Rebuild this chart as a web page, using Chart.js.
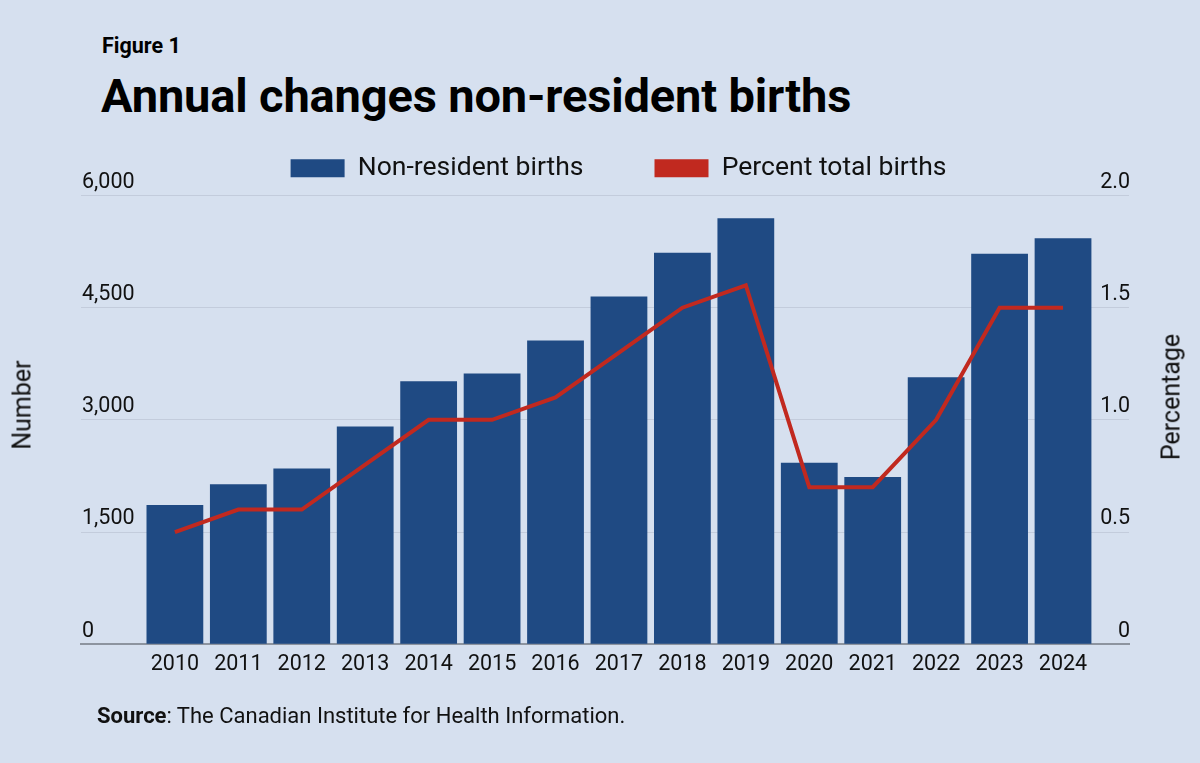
<!DOCTYPE html>
<html>
<head>
<meta charset="utf-8">
<script src="https://cdn.jsdelivr.net/npm/chart.js@4.4.1/dist/chart.umd.min.js"></script>
<style>
  html, body { margin: 0; padding: 0; }
  body {
    width: 1200px; height: 763px; overflow: hidden; position: relative;
    background: #d6e0ef; font-family: Roboto, "Noto Sans", sans-serif; color: #111;
  }
  #wrap { position: absolute; left: 0; top: 0; width: 1200px; height: 763px; }
  .txt { position: absolute; white-space: nowrap; line-height: 1; }
  #fig { left: 102px; top: 35px; font-size: 21.5px; font-weight: 700; color: #000; }
  #title { left: 101px; top: 72px; font-size: 47px; font-weight: 700; color: #000; letter-spacing: -0.15px; }
  #source { left: 97px; top: 705px; font-size: 22px; }
  #source b { font-weight: 700; }
  .axt { font-size: 25px; transform: translate(-50%, -50%) rotate(-90deg); }
  #ytl { left: 22px; top: 405px; }
  #ytr { left: 1171px; top: 397px; }
</style>
</head>
<body>
<div class="txt" id="fig">Figure 1</div>
<div class="txt" id="title">Annual changes non-resident births</div>
<div id="wrap"><canvas id="chart"></canvas></div>
<div class="txt axt" id="ytl">Number</div>
<div class="txt axt" id="ytr">Percentage</div>
<div class="txt" id="source"><b>Source</b>: The Canadian Institute for Health Information.</div>
<script>
// values
const years = [2010, 2011, 2012, 2013, 2014, 2015, 2016, 2017, 2018, 2019, 2020, 2021, 2022, 2023, 2024];
const births = [1860, 2140, 2350, 2910, 3515, 3620, 4060, 4650, 5235, 5695, 2425, 2235, 3570, 5220, 5430];
const percent = [0.5, 0.6, 0.6, 0.8, 1.0, 1.0, 1.1, 1.3, 1.5, 1.6, 0.7, 0.7, 1.0, 1.5, 1.5];
const leftTickLabels = ['0', '1,500', '3,000', '4,500', '6,000'];
const rightTickLabels = ['0', '0.5', '1.0', '1.5', '2.0'];

const blue = '#1f4a83';
const red = '#c1291f';
const textCol = '#111111';
const tickFont = { family: 'Roboto', size: 21.5 };

// a little extra room under the legend
const legendGap = {
  id: 'legendGap',
  beforeLayout(chart) {
    const lg = chart.legend;
    if (!lg || lg._gapDone) return;
    const fit = lg.fit;
    lg.fit = function () { fit.call(this); this.height += 4; };
    lg._gapDone = true;
  }
};

const chart = new Chart(document.getElementById('chart'), {
  type: 'bar',
  data: {
    labels: years,
    datasets: [
      {
        type: 'bar',
        label: 'Non-resident births',
        data: births,
        backgroundColor: blue,
        borderWidth: 0,
        categoryPercentage: 1,
        barPercentage: 0.895,
        yAxisID: 'y',
        order: 1
      },
      {
        type: 'line',
        label: 'Percent total births',
        data: percent,
        borderColor: red,
        backgroundColor: red,
        borderWidth: 4,
        pointRadius: 0,
        tension: 0,
        fill: false,
        yAxisID: 'y1',
        order: 0
      }
    ]
  },
  options: {
    responsive: true,
    maintainAspectRatio: false,
    animation: false,
    layout: { padding: { left: 37, right: 0, top: 84, bottom: 85 } },
    plugins: {
      tooltip: { enabled: false },
      legend: {
        display: true,
        position: 'top',
        align: 'center',
        labels: {
          boxWidth: 54,
          boxHeight: 18,
          padding: 71,
          color: textCol,
          font: { family: 'Roboto', size: 26.5 },
          sort: (a, b) => a.datasetIndex - b.datasetIndex,
          generateLabels: c => Chart.defaults.plugins.legend.labels.generateLabels(c)
            .map(item => Object.assign(item, { lineWidth: 0 }))
        }
      }
    },
    scales: {
      x: {
        type: 'linear',
        offset: false,
        min: 2008.52,
        max: 2025.04,
        afterBuildTicks: s => { s.ticks = years.map(v => ({ value: v })); },
        grid: { display: false },
        border: { display: true, color: '#8d949f', width: 2 },
        ticks: {
          autoSkip: false,
          maxRotation: 0,
          padding: 0,
          color: textCol,
          font: tickFont,
          callback: v => String(v)
        }
      },
      y: {
        position: 'left',
        min: 0,
        max: 6000,
        afterFit: s => { s.width = 44; },
        grid: { color: '#c3ccdc', lineWidth: 1, drawTicks: false },
        border: { display: false },
        ticks: {
          stepSize: 1500,
          mirror: true,
          padding: 1,
          labelOffset: -13,
          color: textCol,
          font: tickFont,
          callback: (v, i) => leftTickLabels[i]
        }
      },
      y1: {
        position: 'right',
        min: 0,
        max: 2,
        afterFit: s => { s.width = 71; },
        grid: { display: false, drawTicks: false },
        border: { display: false },
        ticks: {
          stepSize: 0.5,
          mirror: true,
          padding: 1,
          labelOffset: -13,
          color: textCol,
          font: tickFont,
          callback: (v, i) => rightTickLabels[i]
        }
      }
    }
  },
  plugins: [legendGap]
});
</script>
</body>
</html>
